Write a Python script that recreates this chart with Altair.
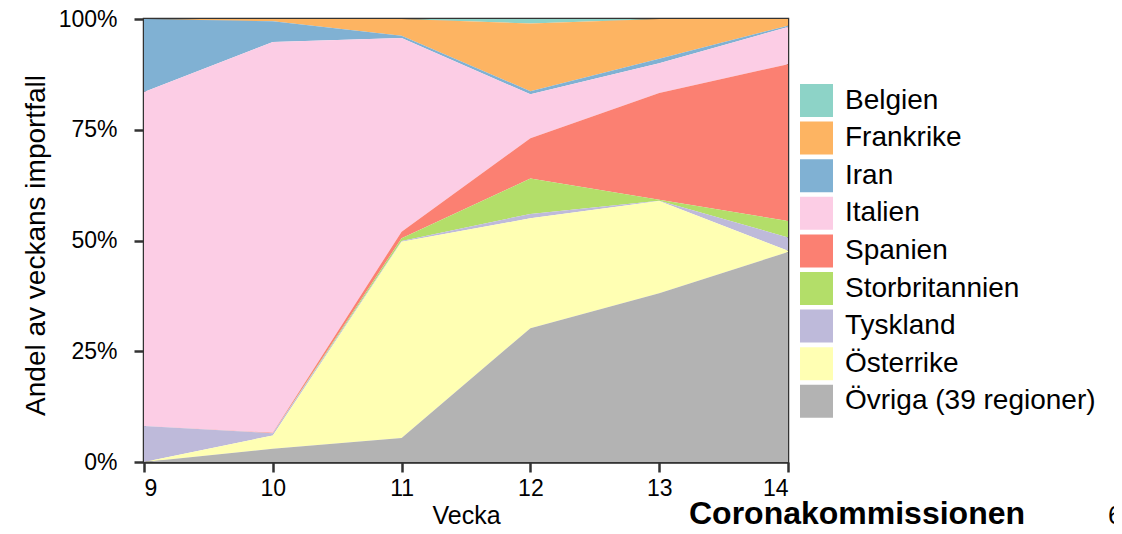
import altair as alt
import pandas as pd

weeks = [9, 10, 11, 12, 13, 14]
regions = ["Belgien", "Frankrike", "Iran", "Italien", "Spanien",
           "Storbritannien", "Tyskland", "Österrike", "Övriga (39 regioner)"]
colors = ["#8dd3c7", "#fdb462", "#80b1d3", "#fccde5", "#fb8072",
          "#b3de69", "#bebada", "#ffffb3", "#b3b3b3"]

# share of the week's imported cases (%)
belgien = [0, 0, 0, 1.0, 0, 0]
frankrike = [0, 0.5, 3.8, 15.3, 9.0, 1.5]
iran = [16.5, 4.7, 0.5, 0.7, 1.0, 0.3]
italien = [75.4, 88.2, 43.7, 9.9, 6.7, 8.4]
spanien = [0, 0.1, 1.5, 9.1, 24.1, 35.4]
storbritannien = [0, 0, 0.6, 8.0, 0.2, 3.7]
tyskland = [8.1, 0.5, 0.2, 1.0, 0.1, 3.0]
osterrike = [0, 3.0, 44.3, 24.8, 20.8, 0.3]
ovriga = [0, 3.0, 5.4, 30.2, 38.1, 47.4]

series = [belgien, frankrike, iran, italien, spanien,
          storbritannien, tyskland, osterrike, ovriga]

rows = []
for i, (name, vals) in enumerate(zip(regions, series)):
    for w, v in zip(weeks, vals):
        rows.append({"Vecka": w, "Andel": v, "Region": name,
                     "rank": len(regions) - i})
df = pd.DataFrame(rows)

FONT = "Liberation Sans"
DARK = "#333333"

areas = alt.Chart(df).mark_area(interpolate="linear").encode(
    x=alt.X("Vecka:Q",
            scale=alt.Scale(domain=[9, 14], nice=False, zero=False),
            axis=alt.Axis(values=weeks, format="d", title="Vecka",
                          grid=False, domainColor=DARK, domainWidth=2.5,
                          tickColor=DARK, tickWidth=2.5, tickSize=10,
                          labelFontSize=23, labelPadding=5, labelColor="black",
                          labelFont=FONT, titleFont=FONT, titleFontSize=25,
                          titleFontWeight="normal", titleColor="black",
                          titleBaseline="alphabetic", titleY=61)),
    y=alt.Y("Andel:Q", stack="normalize",
            scale=alt.Scale(domain=[0, 1], nice=False),
            axis=alt.Axis(values=[0, 0.25, 0.5, 0.75, 1], format=".0%",
                          title="Andel av veckans importfall",
                          grid=False, domainColor=DARK, domainWidth=2.5,
                          tickColor=DARK, tickWidth=2.5, tickSize=10,
                          labelFontSize=23, labelPadding=17, labelColor="black",
                          labelFont=FONT, titleFont=FONT, titleFontSize=28,
                          titleFontWeight="normal", titleColor="black",
                          titleBaseline="alphabetic", titleX=-100, titleY=226)),
    color=alt.Color("Region:N",
                    scale=alt.Scale(domain=regions, range=colors),
                    legend=alt.Legend(title=None, orient="none",
                                      legendX=656, legendY=65, padding=0,
                                      symbolType="square", symbolSize=1089,
                                      symbolStrokeWidth=0, symbolOpacity=1,
                                      rowPadding=4.6, labelOffset=12,
                                      labelFont=FONT, labelFontSize=28,
                                      labelColor="black", labelLimit=400)),
    order=alt.Order("rank:Q", sort="ascending"),
)

caption = alt.Chart(pd.DataFrame({"t": ["Coronakommissionen"]})).mark_text(
    font=FONT, fontSize=32, fontWeight="bold", align="center",
    baseline="alphabetic", color="black"
).encode(x=alt.value(713), y=alt.value(505), text="t:N")

pagenum = alt.Chart(pd.DataFrame({"t": ["6"]})).mark_text(
    font=FONT, fontSize=26, align="left", baseline="alphabetic", color="black"
).encode(x=alt.value(964), y=alt.value(505), text="t:N")

chart = alt.layer(areas, caption, pagenum).properties(
    width=644, height=443,
    padding={"left": 136, "top": 11, "right": 326, "bottom": 64},
    autosize=alt.AutoSizeParams(type="none"),
).configure_view(stroke=DARK, strokeWidth=2.5)

chart.save("out.html", embed_options={"renderer": "svg", "actions": False})
